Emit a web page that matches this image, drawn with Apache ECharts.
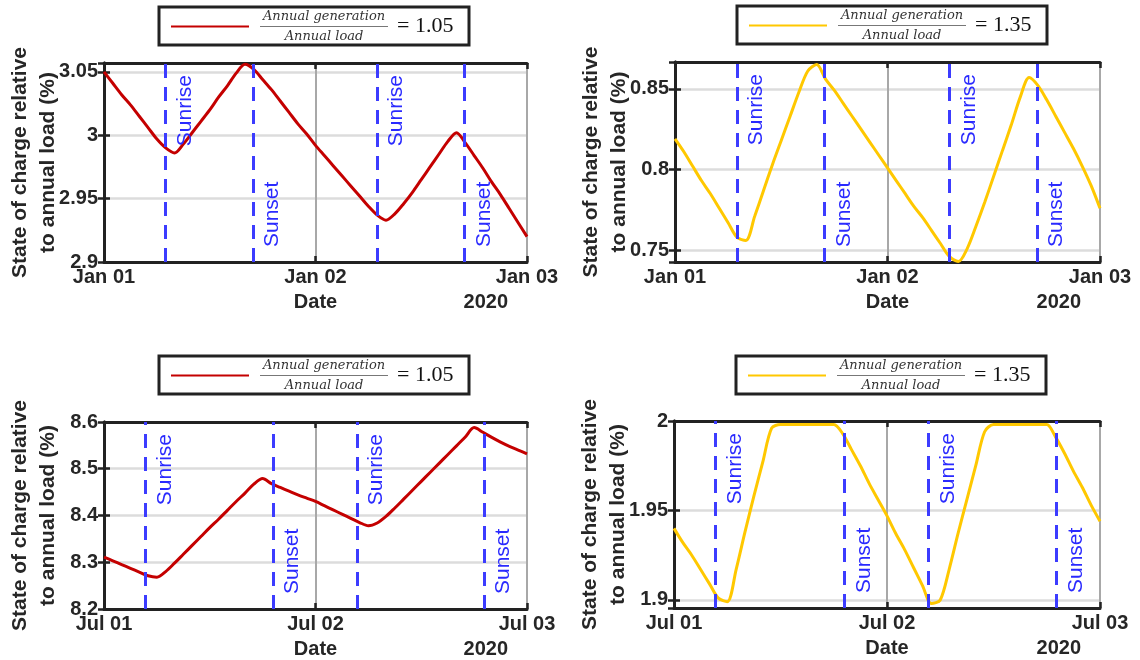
<!DOCTYPE html>
<html>
<head>
<meta charset="utf-8">
<script src="https://cdn.jsdelivr.net/npm/echarts@6/dist/echarts.min.js"></script>
<style>
  body { margin: 0; background: #fff; }
  .panel { position: absolute; width: 570px; height: 330px; }
</style>
</head>
<body>
<div id="socJan105" class="panel" style="left:0;top:0"></div>
<div id="socJan135" class="panel" style="left:570px;top:0"></div>
<div id="socJul105" class="panel" style="left:0;top:330px"></div>
<div id="socJul135" class="panel" style="left:570px;top:330px"></div>
<script>
// hours since midnight of the first day
const hours = [0, 1, 2, 3, 4, 5, 6, 7, 8, 9, 10, 11, 12, 13, 14, 15, 16, 17, 18, 19, 20, 21, 22, 23, 24,
  25, 26, 27, 28, 29, 30, 31, 32, 33, 34, 35, 36, 37, 38, 39, 40, 41, 42, 43, 44, 45, 46, 47, 48];

const dayTicksJan = ['Jan 01', 'Jan 02', 'Jan 03'];
const dayTicksJul = ['Jul 01', 'Jul 02', 'Jul 03'];
const sunLabels = ['Sunrise', 'Sunset', 'Sunrise', 'Sunset'];
const sunJan = [7.0, 16.9, 31.0, 40.9];
const sunJul = [4.7, 19.2, 28.7, 43.1];

// state of charge relative to annual load (%)
const socJan105 = [3.050, 3.041, 3.032, 3.024, 3.015, 3.006, 2.997, 2.990, 2.986, 2.993, 3.002, 3.011,
  3.020, 3.030, 3.039, 3.049, 3.056, 3.052, 3.044, 3.036, 3.027, 3.018, 3.009, 3.001, 2.992,
  2.984, 2.976, 2.968, 2.960, 2.952, 2.944, 2.937, 2.933, 2.938, 2.946, 2.955, 2.965,
  2.975, 2.985, 2.995, 3.002, 2.994, 2.984, 2.974, 2.963, 2.953, 2.942, 2.931, 2.920];
const socJan135 = [0.819, 0.811, 0.802, 0.793, 0.785, 0.776, 0.767, 0.758, 0.756, 0.771, 0.787, 0.803,
  0.818, 0.833, 0.848, 0.861, 0.865, 0.856, 0.849, 0.841, 0.833, 0.825, 0.817, 0.809, 0.801,
  0.793, 0.785, 0.777, 0.770, 0.762, 0.754, 0.746, 0.743, 0.751, 0.765, 0.780, 0.796,
  0.812, 0.828, 0.845, 0.857, 0.852, 0.843, 0.833, 0.823, 0.813, 0.802, 0.790, 0.776];
const socJul105 = [8.311, 8.303, 8.295, 8.287, 8.279, 8.271, 8.268, 8.280, 8.298, 8.317, 8.336, 8.355,
  8.374, 8.392, 8.411, 8.430, 8.448, 8.467, 8.479, 8.468, 8.460, 8.452, 8.444, 8.437, 8.430,
  8.421, 8.412, 8.403, 8.394, 8.385, 8.378, 8.384, 8.398, 8.416, 8.435, 8.454, 8.473,
  8.492, 8.511, 8.530, 8.549, 8.568, 8.588, 8.578, 8.567, 8.557, 8.548, 8.540, 8.532];
const socJul135 = [1.940, 1.932, 1.925, 1.917, 1.909, 1.901, 1.899, 1.917, 1.938, 1.958, 1.977, 1.996,
  1.998, 1.998, 1.998, 1.998, 1.998, 1.998, 1.998, 1.993, 1.984, 1.975, 1.965, 1.956, 1.947,
  1.937, 1.928, 1.918, 1.908, 1.898, 1.900, 1.917, 1.937, 1.956, 1.975, 1.994, 1.998,
  1.998, 1.998, 1.998, 1.998, 1.998, 1.998, 1.991, 1.982, 1.972, 1.963, 1.953, 1.944];

const SANS = '"Liberation Sans", Arial, sans-serif';
const INK = '#262626';
const H = 330;

const panels = [
  { id: 'socJan105', ratio: '1.05', color: '#c40000', values: socJan105, ticks: dayTicksJan, sun: sunJan,
    yMin: 2.9, yMax: 3.057, step: 0.05, hideMin: false, hideMax: true,
    grid: { left: 104, right: 43, top: 63, bottom: 68 }, legend: { left: 159, top: 7 } },
  { id: 'socJan135', ratio: '1.35', color: '#ffc800', values: socJan135, ticks: dayTicksJan, sun: sunJan,
    yMin: 0.7427, yMax: 0.8666, step: 0.05, hideMin: true, hideMax: true,
    grid: { left: 105, right: 40, top: 62, bottom: 68 }, legend: { left: 167, top: 6 } },
  { id: 'socJul105', ratio: '1.05', color: '#c40000', values: socJul105, ticks: dayTicksJul, sun: sunJul,
    yMin: 8.2, yMax: 8.6, step: 0.1, hideMin: false, hideMax: false,
    grid: { left: 104, right: 43, top: 92, bottom: 51 }, legend: { left: 159, top: 26 } },
  { id: 'socJul135', ratio: '1.35', color: '#ffc800', values: socJul135, ticks: dayTicksJul, sun: sunJul,
    yMin: 1.8955, yMax: 2.0, step: 0.05, hideMin: true, hideMax: false,
    grid: { left: 104, right: 40, top: 91, bottom: 52 }, legend: { left: 166, top: 26 } },
];

const boxLine = { show: true, lineStyle: { color: '#222', width: 3 } };
const boxTick = { show: true, inside: true, length: 6, lineStyle: { color: '#222', width: 2.5 } };

function buildOption(p) {
  const yBase = {
    type: 'value',
    min: p.yMin,
    max: p.yMax,
    minInterval: p.step,
    maxInterval: p.step,
    axisLine: boxLine,
    axisTick: boxTick,
  };
  return {
    animation: false,
    grid: Object.assign({ outerBoundsMode: 'none', containLabel: false }, p.grid),
    legend: {
      left: p.legend.left,
      top: p.legend.top,
      selectedMode: false,
      itemWidth: 78,
      itemHeight: 14,
      padding: [3, 12, 2, 11],
      borderColor: '#222',
      borderWidth: 3,
      backgroundColor: '#fff',
      itemStyle: { opacity: 0 },
      formatter: name => `{sp|}{frac|Annual generation}{pad|}\n{sp|}{bar|}{gap|}{eq|= ${name}}\n{sp|}{frac|Annual load}{pad|}`,
      textStyle: {
        rich: {
          sp: { width: 6, lineHeight: 3 },
          frac: { width: 128, align: 'center', lineHeight: 17, fontSize: 13, fontStyle: 'italic',
            fontFamily: '"DejaVu Serif", serif', color: '#333' },
          pad: { width: 69, align: 'right', lineHeight: 3 },
          bar: { width: 128, height: 1.2, lineHeight: 3, backgroundColor: '#777' },
          gap: { width: 9, lineHeight: 3 },
          eq: { width: 60, lineHeight: 3, fontSize: 22, fontFamily: '"Liberation Serif", serif', color: '#111' },
        },
      },
    },
    xAxis: [{
      type: 'value',
      min: 0,
      max: 48,
      interval: 24,
      name: 'Date',
      nameLocation: 'middle',
      nameGap: 30,
      nameMoveOverlap: false,
      nameTextStyle: { fontFamily: SANS, fontWeight: 'bold', fontSize: 20, color: INK },
      axisLine: boxLine,
      axisTick: boxTick,
      axisLabel: {
        margin: 5,
        fontFamily: SANS, fontWeight: 'bold', fontSize: 20, color: INK,
        formatter: v => p.ticks[Math.round(v / 24)],
      },
      splitLine: { show: true, lineStyle: { color: '#a8a8a8', width: 2 } },
    }, {
      type: 'value',
      position: 'top',
      min: 0,
      max: 48,
      interval: 24,
      axisLine: boxLine,
      axisTick: boxTick,
      axisLabel: { show: false },
      splitLine: { show: false },
    }],
    yAxis: [Object.assign({}, yBase, {
      name: 'State of charge relative\nto annual load (%)',
      nameLocation: 'middle',
      nameGap: 42,
      nameMoveOverlap: false,
      nameTextStyle: { fontFamily: SANS, fontWeight: 'bold', fontSize: 21, lineHeight: 28, color: INK },
      axisLabel: {
        margin: 6, showMinLabel: !p.hideMin, showMaxLabel: !p.hideMax,
        fontFamily: SANS, fontWeight: 'bold', fontSize: 20, color: INK,
      },
      splitLine: { show: true, lineStyle: { color: '#dcdcdc', width: 2.5 } },
    }), Object.assign({}, yBase, {
      position: 'right',
      axisLabel: { show: false },
      splitLine: { show: false },
    })],
    graphic: [{
      type: 'text',
      right: p.grid.right + 19,
      top: H - p.grid.bottom + 30,
      style: { text: '2020', font: `bold 20px ${SANS}`, fill: INK },
    }],
    series: [{
      name: p.ratio,
      type: 'line',
      data: hours.map((h, i) => [h, p.values[i]]),
      symbol: 'none',
      smooth: 0.3,
      clip: true,
      lineStyle: { color: p.color, width: 3 },
      itemStyle: { color: p.color },
      markLine: {
        silent: true,
        symbol: ['none', 'none'],
        lineStyle: { color: '#3c3cff', type: [14, 9], width: 3 },
        label: { fontFamily: SANS, fontSize: 21, color: '#2a2aff' },
        data: p.sun.map((x, i) => ({
          xAxis: x,
          label: {
            formatter: sunLabels[i],
            position: i % 2 ? 'insideStartBottom' : 'insideEndBottom',
            distance: i % 2 ? [15, 9] : [12, 9],
          },
        })),
      },
    }],
  };
}

const myChart = panels.map(p => echarts.init(document.getElementById(p.id)));

myChart.forEach((chart, i) => {
  chart.setOption(buildOption(panels[i]));
});
</script>
</body>
</html>
